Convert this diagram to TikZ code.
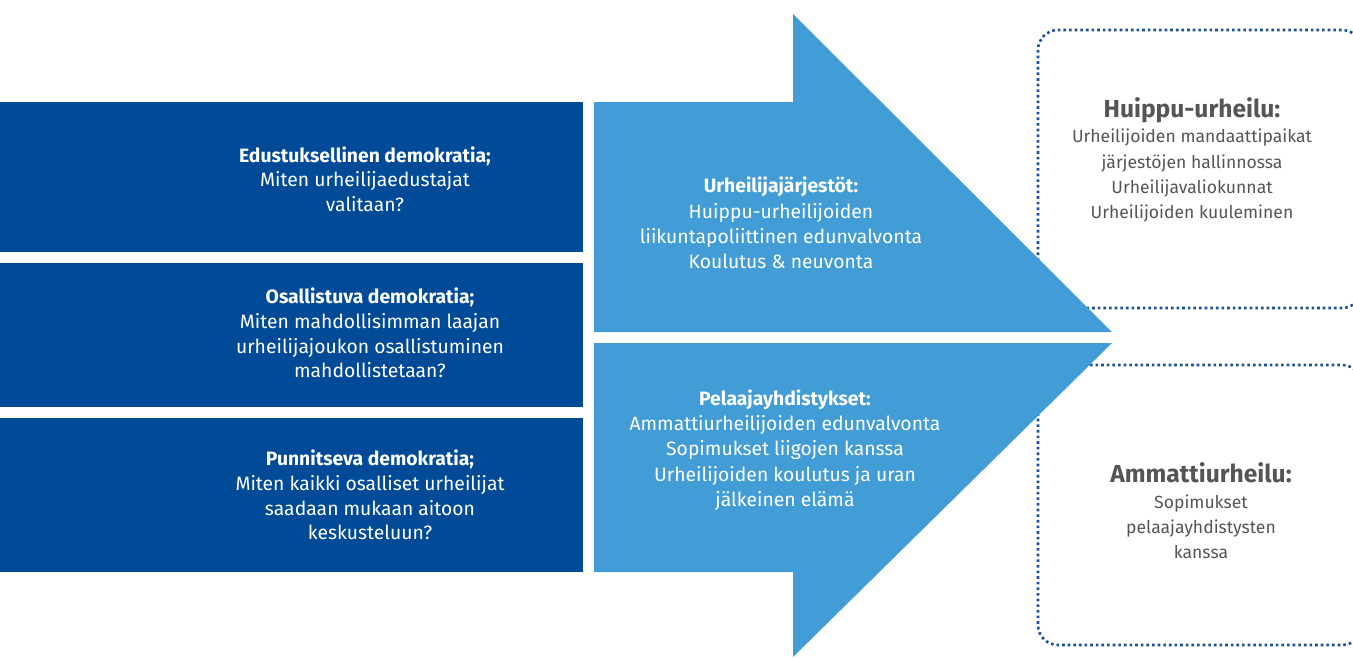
\documentclass[tikz,border=0pt]{standalone}
\usepackage{fontspec}
\setmainfont{Fira Sans}
\definecolor{darkblue}{RGB}{0,74,152}
\definecolor{lightblue}{RGB}{66,156,214}
\definecolor{dotblue}{RGB}{28,80,156}
\definecolor{textgray}{RGB}{85,85,85}
\begin{document}
\begin{tikzpicture}[x=0.02cm, y=-0.02cm]
	\tikzstyle{darkbox}  = [fill=darkblue]
	\tikzstyle{arrowpart} = [fill=lightblue]
	\tikzstyle{dotbox}   = [draw=dotblue, line width=1.5pt, dash pattern=on 1.5pt off 1.7pt, rounded corners=0.4cm]
	\tikzstyle{boxtext}  = [align=center, text=white, font=\fontsize{11}{14}\selectfont, inner sep=0pt]
	\tikzstyle{arrowtext} = [align=center, text=white, font=\fontsize{11}{14.4}\selectfont, inner sep=0pt]
	\tikzstyle{graytext} = [align=center, text=textgray, font=\fontsize{10}{14.4}\selectfont, inner sep=0pt]

	\clip (0,0) rectangle (1353,657);

	% dotted boxes on the right
	\draw[dotbox] (1038,30) rectangle (1362,308);
	\draw[dotbox] (1038,365) rectangle (1362,645);

	% dark blue boxes
	\foreach \top/\bottom in {102/252, 263/407, 418/572}
		\fill[darkbox] (0,\top) rectangle (583,\bottom);

	% split arrow
	\fill[arrowpart] (594,102) -- (793,102) -- (793,14) -- (1112,332) -- (594,332) -- cycle;
	\fill[arrowpart] (594,343) -- (1112,343) -- (793,657) -- (793,572) -- (594,572) -- cycle;

	\node[boxtext] (edu) at (365,179) {\textbf{Edustuksellinen demokratia;}\\Miten urheilijaedustajat\\valitaan?};
	\node[boxtext] (osa) at (370,333) {\textbf{Osallistuva demokratia;}\\Miten mahdollisimman laajan\\urheilijajoukon osallistuminen\\mahdollistetaan?};
	\node[boxtext] (pun) at (370,495) {\textbf{Punnitseva demokratia;}\\Miten kaikki osalliset urheilijat\\saadaan mukaan aitoon\\keskusteluun?};

	\node[arrowtext] (jar) at (781,223) {\textbf{Urheilijajärjestöt:}\\Huippu-urheilijoiden\\liikuntapoliittinen edunvalvonta\\Koulutus \& neuvonta};
	\node[arrowtext] (pel) at (785,450) {\textbf{Pelaajayhdistykset:}\\Ammattiurheilijoiden edunvalvonta\\Sopimukset liigojen kanssa\\Urheilijoiden koulutus ja uran\\jälkeinen elämä};

	\node[graytext] (huippu) at (1192,160) {{\fontsize{14}{15}\selectfont\textbf{Huippu-urheilu:}}\\Urheilijoiden mandaattipaikat\\järjestöjen hallinnossa\\Urheilijavaliokunnat\\Urheilijoiden kuuleminen};
	\node[graytext] (ammatti) at (1201,511) {{\fontsize{14}{15}\selectfont\textbf{Ammattiurheilu:}}\\Sopimukset\\pelaajayhdistysten\\kanssa};
\end{tikzpicture}
\end{document}
